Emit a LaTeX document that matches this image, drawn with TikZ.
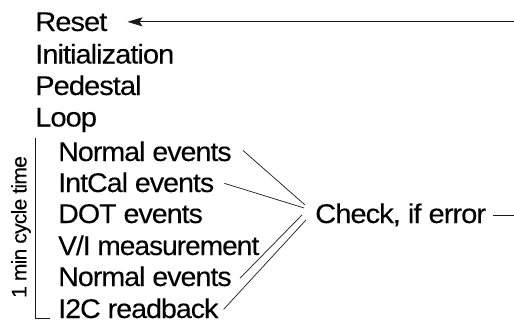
\documentclass[tikz,border=0pt]{standalone}
\usepackage{fontspec}
\setmainfont{Liberation Sans}
\newfontfamily\tightfont[LetterSpace=-3.5,FakeBold=0.1]{Liberation Sans}
\usetikzlibrary{arrows.meta}
\newcommand{\wide}[2][1.08]{\scalebox{#1}[1]{#2}}
\tikzset{
  lbl/.style={font=\tightfont\fontsize{27}{27}\selectfont, inner sep=0pt, anchor=base west},
  side/.style={font=\tightfont\fontsize{21}{21}\selectfont, inner sep=0pt, rotate=90},
  conn/.style={line width=0.7pt, draw=black!90},
}
\begin{document}
\begin{tikzpicture}[x=1pt,y=-1pt]
\useasboundingbox (0,0) rectangle (514,325);
\node[lbl] (reset) at (35,31) {\wide{Reset}};
\node[lbl] (init) at (35,63.5) {\wide{Initialization}};
\node[lbl] (ped) at (35,95) {\wide{Pedestal}};
\node[lbl] (loop) at (35,126.5) {\wide{Loop}};
\node[lbl] (n1) at (58,161) {\wide[1.06]{Normal events}};
\node[lbl] (ic) at (58,192) {\wide[1.06]{IntCal events}};
\node[lbl] (dot) at (58,223) {\wide[1.06]{DOT events}};
\node[lbl] (vi) at (58,255) {\wide[1.04]{V/I measurement}};
\node[lbl] (n2) at (58,286) {\wide[1.06]{Normal events}};
\node[lbl] (i2c) at (58,318) {\wide[1.06]{I2C readback}};
\node[lbl] (check) at (315,223) {\wide{Check, if error}};
\node[side] (cyc) at (21,227) {1 min cycle time};
% bracket
\draw[conn] (35,138) -- (35,318) -- (50,318);
% top arrow
\coordinate (tr) at (reset.east -| 514,0);
\draw[conn, -{Stealth[length=15pt,width=9pt,inset=3pt]}, shorten >=20pt] (tr) -- (reset.east);
% right stub
\coordinate (cr) at (check.east -| 514,0);
\draw[conn] ([xshift=7pt]check.east) -- (cr);
% lines to check
\draw[conn] ([shift={(11,-1)}]n1.east) -- ([shift={(-10,-10)}]check.west);
\draw[conn] ([shift={(10,1)}]ic.east) -- ([shift={(-11,-7)}]check.west);
\draw[conn] ([shift={(8,2)}]n2.east) -- ([shift={(-13,0)}]check.west);
\draw[conn] ([shift={(5,1)}]i2c.east) -- ([shift={(-9,5)}]check.west);
\end{tikzpicture}
\end{document}
